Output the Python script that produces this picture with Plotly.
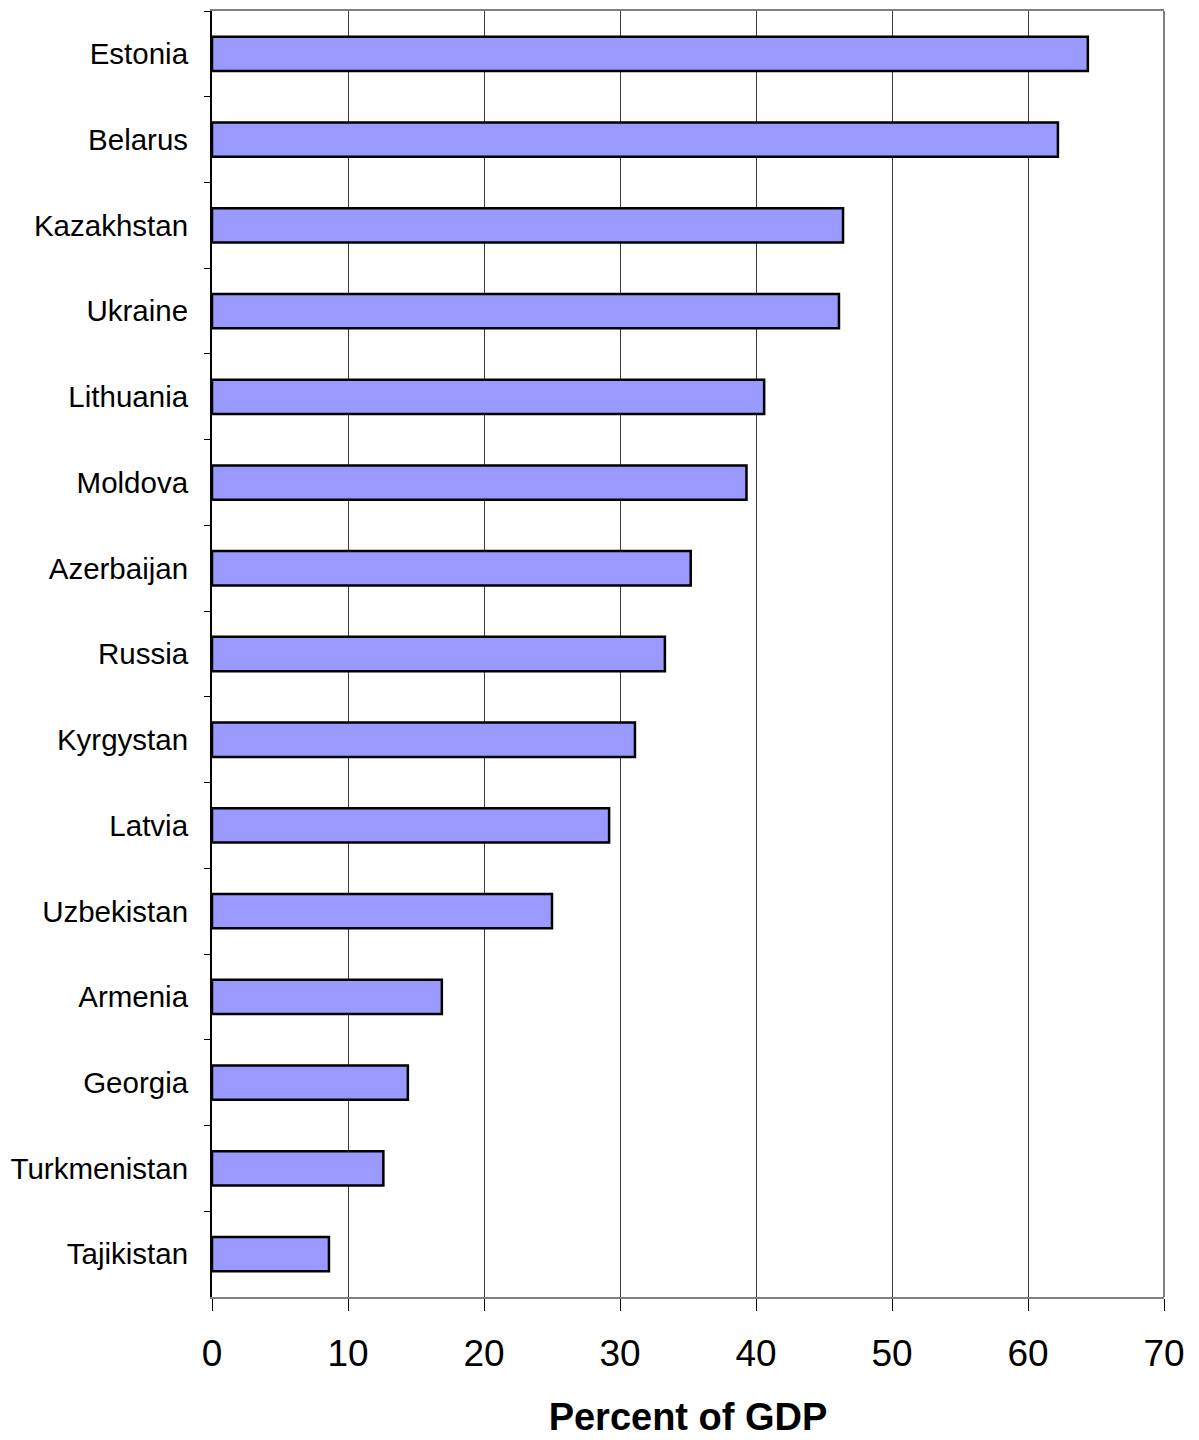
import plotly.graph_objects as go

# Countries listed top to bottom, with their value in percent of GDP
countries = ["Estonia", "Belarus", "Kazakhstan", "Ukraine", "Lithuania", "Moldova",
             "Azerbaijan", "Russia", "Kyrgystan", "Latvia", "Uzbekistan", "Armenia",
             "Georgia", "Turkmenistan", "Tajikistan"]
values = [64.4, 62.2, 46.4, 46.1, 40.6, 39.3, 35.2, 33.3, 31.1, 29.2, 25.0, 16.9,
          14.4, 12.6, 8.6]
x_ticks = [0, 10, 20, 30, 40, 50, 60, 70]

FONT = "Liberation Sans, Arial, sans-serif"

fig = go.Figure(
    go.Bar(
        y=countries,
        x=values,
        orientation="h",
        marker=dict(color="#9999FF", line=dict(color="black", width=2.5)),
        hoverinfo="x+y",
    )
)

fig.update_layout(
    width=1199,
    height=1440,
    margin=dict(l=212, r=35, t=9, b=142),
    plot_bgcolor="white",
    paper_bgcolor="white",
    bargap=0.6,
    showlegend=False,
    font=dict(family=FONT, color="black"),
    shapes=[
        # gray right edge of the plot frame
        dict(type="line", xref="paper", yref="paper", x0=1, x1=1, y0=0, y1=1,
             line=dict(color="#808080", width=2)),
    ],
)

fig.update_xaxes(
    range=[0, 70],
    tickvals=x_ticks,
    ticktext=[str(v) for v in x_ticks],
    showgrid=True,
    gridcolor="#3a3a3a",
    gridwidth=1,
    zeroline=False,
    showline=True,
    linecolor="#808080",
    linewidth=2,
    mirror=True,
    ticks="outside",
    ticklen=12,
    tickcolor="black",
    tickwidth=1,
    ticklabelstandoff=11,
    tickfont=dict(size=37, family=FONT, color="black"),
    title=dict(text="<b>Percent of GDP</b>", font=dict(size=38, family=FONT, color="black"),
               standoff=30),
)

fig.update_yaxes(
    categoryorder="array",
    categoryarray=countries,
    autorange="reversed",
    showgrid=False,
    zeroline=False,
    showline=True,
    linecolor="black",
    linewidth=2,
    ticks="outside",
    tickson="boundaries",
    ticklen=6,
    tickcolor="black",
    tickwidth=1,
    ticklabelstandoff=16,
    tickfont=dict(size=29.5, family=FONT, color="black"),
)

fig.write_html("out.html")
